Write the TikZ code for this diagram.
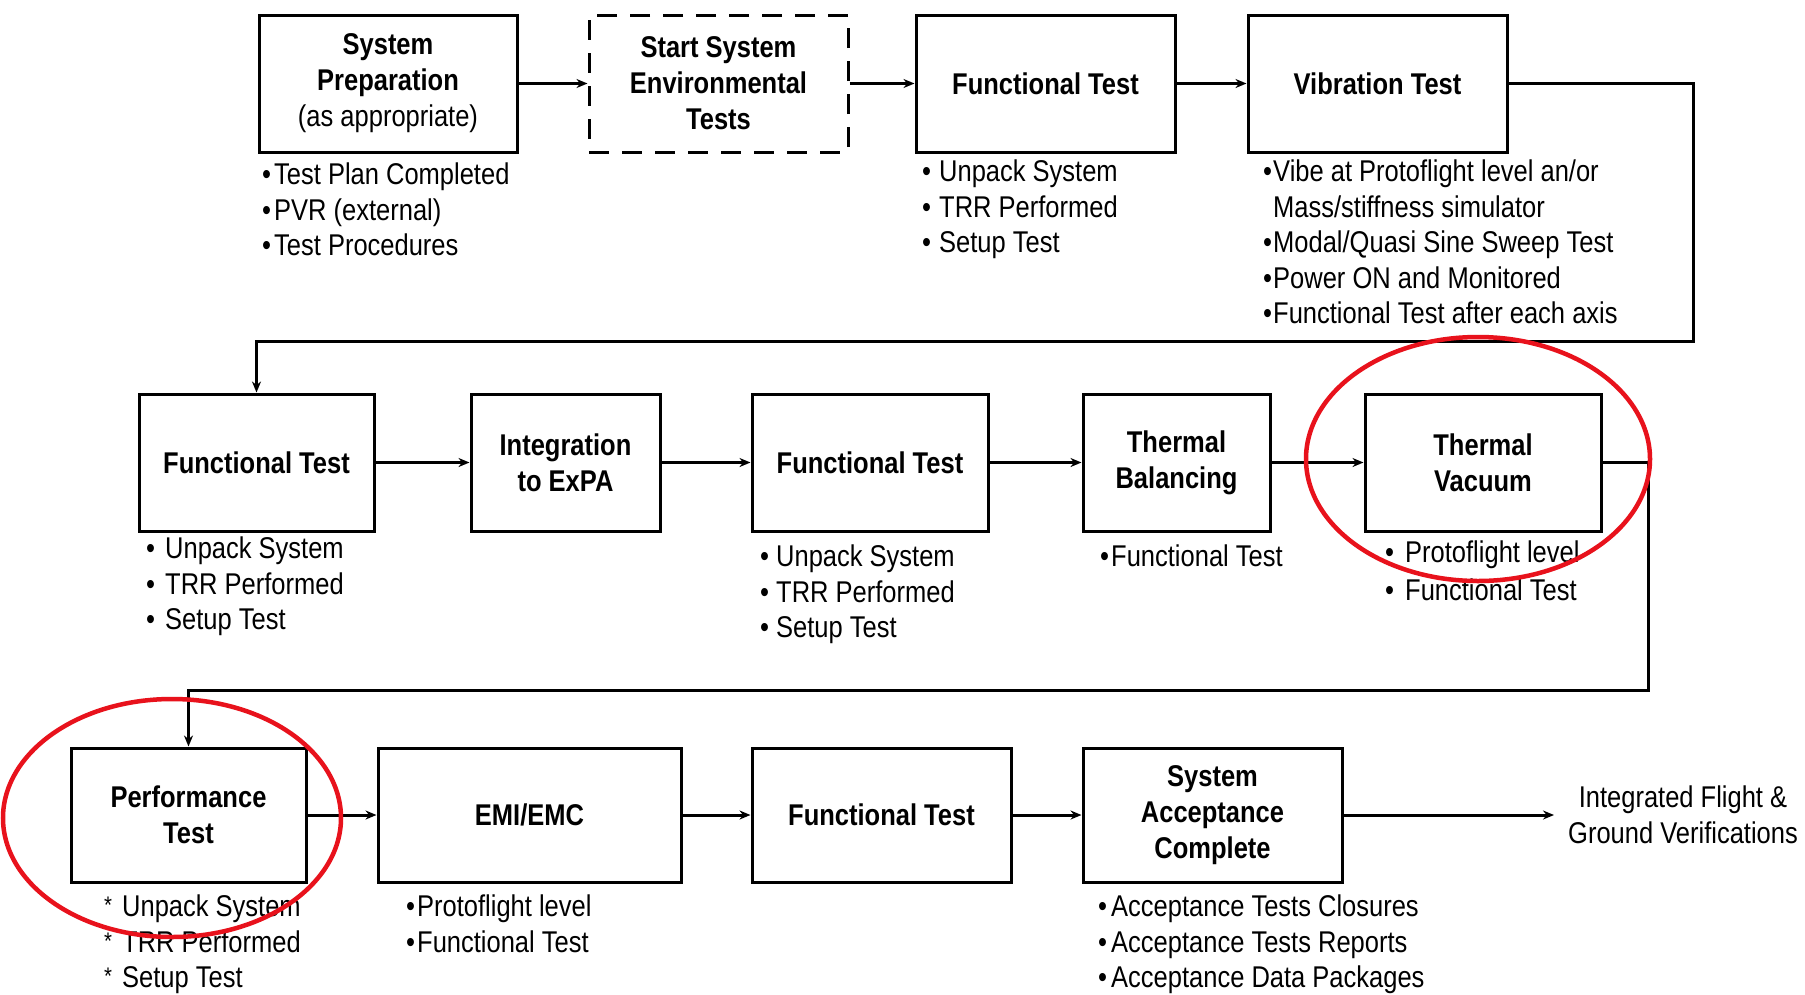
\documentclass[tikz,border=0pt]{standalone}
\usepackage{fontspec}
\setmainfont{Liberation Sans}[FakeStretch=0.85]
\usetikzlibrary{arrows.meta}
\definecolor{ringred}{RGB}{232,18,28}
\newcommand\fsz{\fontsize{30}{36}\selectfont}
\newcommand\fsl{\fontsize{30}{35.5}\selectfont}
\newcommand\bl[1]{\makebox[#1][l]{\scalebox{1.0}{•}}}
\newcommand\st[1]{\makebox[#1][l]{\raisebox{0.1em}{\scalebox{0.8}{*}}}}
\begin{document}
\begin{tikzpicture}[x=1pt,y=-1pt,
  box/.style={draw, line width=3pt, inner sep=0pt, align=center, font=\fsz\bfseries},
  dbox/.style={box, dash pattern=on 20pt off 13pt},
  lst/.style={anchor=north west, inner sep=0pt, align=left, font=\fsl},
  arr/.style={line width=3pt, -{Stealth[length=11pt,width=9pt]}},
  ring/.style={draw=ringred, line width=4.5pt}]
\useasboundingbox (0,0) rectangle (1805,994);
\fill[white] (0,0) rectangle (1805,994);

% Row 1
\node[box, minimum width=258pt, minimum height=137pt] (prep) at (388,83.5) {System\\Preparation\\{\mdseries(as appropriate)}};
\node[dbox, minimum width=259pt, minimum height=137pt] (start) at (718.5,83.5) {Start System\\Environmental\\Tests};
\node[box, minimum width=259pt, minimum height=137pt] (ft1) at (1045.5,83.5) {Functional Test};
\node[box, minimum width=259pt, minimum height=137pt] (vib) at (1377.5,83.5) {Vibration Test};

\node[lst] (prepl) at (262,163) {\bl{12pt}Test Plan Completed\\\bl{12pt}PVR (external)\\\bl{12pt}Test Procedures};
\node[lst] (ft1l) at (922,160) {\bl{17pt}Unpack System\\\bl{17pt}TRR Performed\\\bl{17pt}Setup Test};
\node[lst] (vibl) at (1263,160) {\bl{10pt}Vibe at Protoflight level an/or\\\hspace*{10pt}Mass/stiffness simulator\\\bl{10pt}Modal/Quasi Sine Sweep Test\\\bl{10pt}Power ON and Monitored\\\bl{10pt}Functional Test after each axis};

% Row 2
\node[box, minimum width=235pt, minimum height=137pt] (ft2) at (256.5,462.5) {Functional Test};
\node[box, minimum width=189pt, minimum height=137pt] (integ) at (565.5,462.5) {Integration\\to ExPA};
\node[box, minimum width=236pt, minimum height=137pt] (ft3) at (870,462.5) {Functional Test};
\node[box, minimum width=187pt, minimum height=137pt] (tb) at (1176.5,462.5) {Thermal\\Balancing};
\node[box, minimum width=236pt, minimum height=137pt] (tv) at (1483,462.5) {Thermal\\Vacuum};

\node[lst] (ft2l) at (146,537) {\bl{19pt}Unpack System\\\bl{19pt}TRR Performed\\\bl{19pt}Setup Test};
\node[lst] (ft3l) at (760,545) {\bl{16pt}Unpack System\\\bl{16pt}TRR Performed\\\bl{16pt}Setup Test};
\node[lst] (tbl) at (1100,545) {\bl{11pt}Functional Test};
\node[lst, font=\fontsize{30}{38}\selectfont] (tvl) at (1385,541) {\bl{20pt}Protoflight level\\\bl{20pt}Functional Test};

% Row 3
\node[box, minimum width=235pt, minimum height=134pt] (perf) at (188.5,815) {Performance\\Test};
\node[box, minimum width=303pt, minimum height=134pt] (emi) at (529.5,815) {EMI/EMC};
\node[box, minimum width=259pt, minimum height=134pt] (ft4) at (881.5,815) {Functional Test};
\node[box, minimum width=259pt, minimum height=134pt] (acc) at (1212.5,815) {System\\Acceptance\\Complete};

\node[lst] (perfl) at (104,895) {\st{18pt}Unpack System\\\st{18pt}TRR Performed\\\st{18pt}Setup Test};
\node[lst] (emil) at (406,895) {\bl{11pt}Protoflight level\\\bl{11pt}Functional Test};
\node[lst] (accl) at (1098,895) {\bl{13pt}Acceptance Tests Closures\\\bl{13pt}Acceptance Tests Reports\\\bl{13pt}Acceptance Data Packages};

\node[align=center, inner sep=0pt, font=\fsz] (fin) at (1683,815) {Integrated Flight \&\\Ground Verifications};
\coordinate (finend) at (1554,815);

% connectors
\coordinate (r1) at (1693,341);
\coordinate (r2) at (1648,690);
\draw[arr] (prep) -- (start);
\draw[arr] (start) -- (ft1);
\draw[arr] (ft1) -- (vib);
\draw[arr] (vib.east) -| (r1) -| (ft2.north);
\draw[arr] (ft2) -- (integ);
\draw[arr] (integ) -- (ft3);
\draw[arr] (ft3) -- (tb);
\draw[arr] (tb) -- (tv);
\draw[arr] (tv.east) -| (r2) -| (perf.north);
\draw[arr] (perf) -- (emi);
\draw[arr] (emi) -- (ft4);
\draw[arr] (ft4) -- (acc);
\draw[arr] (acc) -- (finend);

% red rings
\draw[ring] (1478,459) ellipse [x radius=172pt, y radius=122pt];
\draw[ring] (172,818) ellipse [x radius=169pt, y radius=119pt];
\end{tikzpicture}
\end{document}
